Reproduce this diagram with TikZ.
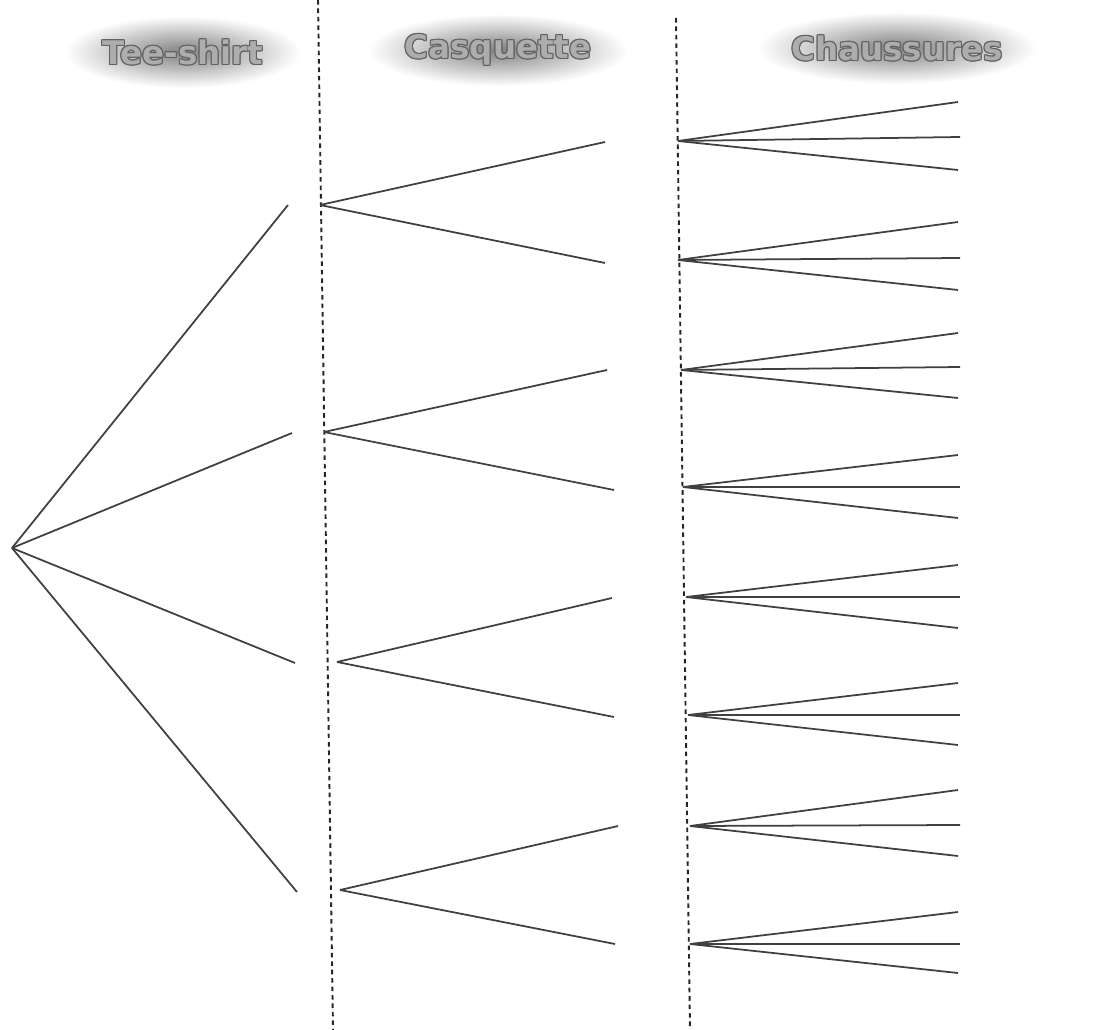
\documentclass[tikz,border=0pt]{standalone}
\usepackage{fontspec}
\setmainfont{DejaVu Sans}
\newfontfamily\hdrfont{DejaVu Sans}
\tikzset{
  branch/.style={draw=black!75, line width=1pt},
  sep/.style={draw=black!85, line width=1.1pt, dash pattern=on 2.6pt off 2.2pt},
  hdrtxt/.style={font=\hdrfont\bfseries\fontsize{18.5}{20}\selectfont, inner sep=0pt},
}
\newcommand{\hdrlabel}[3]{%
  \shade[inner color=black!50, outer color=white] (#1) ellipse ({#3} and 36);
  \foreach \dx/\dy in {-1/0,1/0,0/-1,0/1,-1/-1,1/1,-1/1,1/-1}{
    \node[hdrtxt, text=black!62] at ([shift={(\dx,\dy)}]#1) {#2};
  }
  \node[hdrtxt, text=black!32] (#1t) at (#1) {#2};
}
\begin{document}
\begin{tikzpicture}[x=0.02cm, y=-0.02cm]
\useasboundingbox[fill=white] (0,0) rectangle (1102,1030);
% header positions
\coordinate (h1) at (183,52);
\coordinate (h2) at (498,50);
\coordinate (h3) at (897,48);
\hdrlabel{h1}{Tee-shirt}{118}
\hdrlabel{h2}{Casquette}{130}
\hdrlabel{h3}{Chaussures}{140}
% dashed separators
\coordinate (s1t) at (318,0);  \coordinate (s1b) at (333,1030);
\coordinate (s2t) at (676,18); \coordinate (s2b) at (690,1030);
\draw[sep] (s1t) -- (s1b);
\draw[sep] (s2t) -- (s2b);
% root
\coordinate (R) at (12,548);
% level 1 (in / out)
\coordinate (A1i) at (288,205); \coordinate (A1o) at (320,205);
\coordinate (A2i) at (292,433); \coordinate (A2o) at (324,432);
\coordinate (A3i) at (295,663); \coordinate (A3o) at (337,662);
\coordinate (A4i) at (297,892); \coordinate (A4o) at (340,890);
% level 2
\coordinate (B1i) at (605,142); \coordinate (B1o) at (678,141);
\coordinate (B2i) at (605,263); \coordinate (B2o) at (678,260);
\coordinate (B3i) at (607,370); \coordinate (B3o) at (681,370);
\coordinate (B4i) at (614,490); \coordinate (B4o) at (683,487);
\coordinate (B5i) at (612,598); \coordinate (B5o) at (686,597);
\coordinate (B6i) at (614,717); \coordinate (B6o) at (688,715);
\coordinate (B7i) at (618,826); \coordinate (B7o) at (690,826);
\coordinate (B8i) at (615,944); \coordinate (B8o) at (690,944);
% leaves
\foreach \b/\ya/\yb/\yc in {1/102/137/170, 2/222/258/290, 3/333/367/398, 4/455/487/518,
                            5/565/597/628, 6/683/715/745, 7/790/825/856, 8/912/944/973}{
  \coordinate (L\b a) at (958,\ya);
  \coordinate (L\b b) at (960,\yb);
  \coordinate (L\b c) at (958,\yc);
}
% connectors
\foreach \a in {1,2,3,4}{ \draw[branch] (R) -- (A\a i); }
\draw[branch] (A1o) -- (B1i); \draw[branch] (A1o) -- (B2i);
\draw[branch] (A2o) -- (B3i); \draw[branch] (A2o) -- (B4i);
\draw[branch] (A3o) -- (B5i); \draw[branch] (A3o) -- (B6i);
\draw[branch] (A4o) -- (B7i); \draw[branch] (A4o) -- (B8i);
\foreach \b in {1,...,8}{
  \draw[branch] (B\b o) -- (L\b a);
  \draw[branch] (B\b o) -- (L\b b);
  \draw[branch] (B\b o) -- (L\b c);
}
\end{tikzpicture}
\end{document}
